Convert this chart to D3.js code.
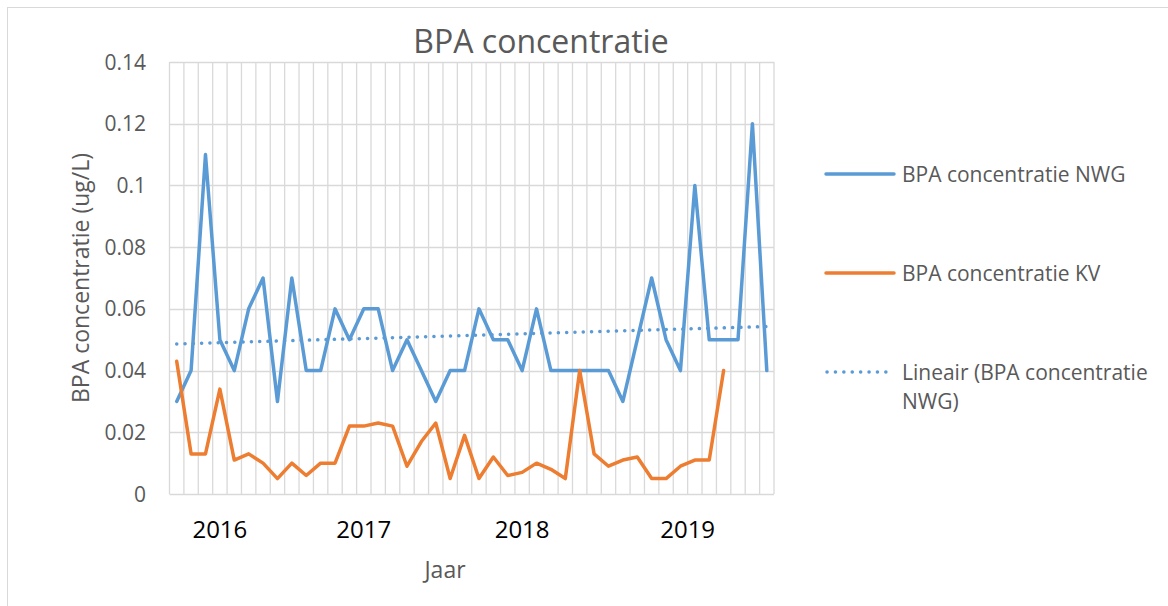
<!DOCTYPE html>
<html>
<head>
<meta charset="utf-8">
<script src="https://cdn.jsdelivr.net/npm/d3@7"></script>
<style>
  body { margin: 0; background: #fff; }
  text { font-family: "Open Sans", "Noto Sans", sans-serif; }
</style>
</head>
<body>
<div id="chart"></div>
<script>
// monthly samples, NWG and KV (ug/L)
var nwgValues = [0.03, 0.04, 0.11, 0.05, 0.04, 0.06, 0.07, 0.03, 0.07, 0.04, 0.04,
  0.06, 0.05, 0.06, 0.06, 0.04, 0.05, 0.04, 0.03, 0.04, 0.04,
  0.06, 0.05, 0.05, 0.04, 0.06, 0.04, 0.04, 0.04, 0.04, 0.04,
  0.03, 0.05, 0.07, 0.05, 0.04, 0.10, 0.05, 0.05, 0.05, 0.12, 0.04];
var kvValues = [0.043, 0.013, 0.013, 0.034, 0.011, 0.013, 0.010, 0.005, 0.010, 0.006, 0.010,
  0.010, 0.022, 0.022, 0.023, 0.022, 0.009, 0.017, 0.023, 0.005, 0.019,
  0.005, 0.012, 0.006, 0.007, 0.010, 0.008, 0.005, 0.040, 0.013, 0.009,
  0.011, 0.012, 0.005, 0.005, 0.009, 0.011, 0.011, 0.040, null, null, null];
var yearLabels = ["2016", "2017", "2018", "2019"];
var yearIndex = [3, 13, 24, 35.5];
var yTicks = [0, 0.02, 0.04, 0.06, 0.08, 0.1, 0.12, 0.14];
var seriesNames = ["BPA concentratie NWG", "BPA concentratie KV"];

var width = 1168, height = 606;
var blue = "#5b9bd5", orange = "#ed7d31", grid = "#d9d9d9";
var lw = 3.5;

var svg = d3.select("#chart").append("svg")
  .attr("width", width).attr("height", height);

// outer chart border
svg.append("rect").attr("x", 7.5).attr("y", 7.5)
  .attr("width", 1300).attr("height", 800)
  .attr("fill", "#fff").attr("stroke", grid);

var idx = d3.range(nwgValues.length);
var x = d3.scaleBand().domain(idx).range([169.5, 774]).paddingInner(0).paddingOuter(0);
var bw = x.bandwidth();
var cx = function (i) { return x(0) + (i + 0.5) * bw; };
var y = d3.scaleLinear().domain([0, 0.14]).range([494, 62]);

// horizontal gridlines
svg.append("g").selectAll("line").data(yTicks).enter().append("line")
  .attr("x1", 169.5).attr("x2", 774)
  .attr("y1", function (d) { return Math.round(y(d)) + 0.5; })
  .attr("y2", function (d) { return Math.round(y(d)) + 0.5; })
  .attr("stroke", grid).attr("stroke-width", 1.3);

// vertical gridlines at category edges
svg.append("g").selectAll("line").data(d3.range(nwgValues.length + 1)).enter().append("line")
  .attr("x1", function (d) { return x(0) + d * bw; })
  .attr("x2", function (d) { return x(0) + d * bw; })
  .attr("y1", y(0.14)).attr("y2", y(0))
  .attr("stroke", grid).attr("stroke-width", 1.3);

// y tick labels
svg.append("g").selectAll("text").data(yTicks).enter().append("text")
  .attr("x", 146).attr("y", function (d) { return y(d); })
  .attr("dy", "0.36em").attr("text-anchor", "end")
  .style("font-size", "21px").style("fill", "#595959")
  .text(function (d) { return d3.format("~g")(d); });

// year labels
svg.append("g").selectAll("text").data(yearLabels).enter().append("text")
  .attr("x", function (d, i) { return cx(yearIndex[i]); })
  .attr("y", 538).attr("text-anchor", "middle")
  .style("font-size", "24px").style("fill", "#000")
  .text(function (d) { return d; });

// trendline (least squares on NWG)
var mx = d3.mean(idx), my = d3.mean(nwgValues);
var slope = d3.sum(idx, function (i) { return (i - mx) * (nwgValues[i] - my); }) /
  d3.sum(idx, function (i) { return (i - mx) * (i - mx); });
var trend = [0, idx.length - 1].map(function (i) { return [cx(i), y(my + slope * (i - mx))]; });
svg.append("path").attr("d", d3.line()(trend))
  .attr("fill", "none").attr("stroke", blue).attr("stroke-width", lw)
  .attr("stroke-linecap", "round").attr("stroke-dasharray", "0.1 8.2");

var line = d3.line()
  .defined(function (d) { return d != null; })
  .x(function (d, i) { return cx(i); })
  .y(function (d) { return y(d); });

svg.append("path").datum(nwgValues).attr("d", line)
  .attr("fill", "none").attr("stroke", blue).attr("stroke-width", lw)
  .attr("stroke-linejoin", "round").attr("stroke-linecap", "round");
svg.append("path").datum(kvValues).attr("d", line)
  .attr("fill", "none").attr("stroke", orange).attr("stroke-width", lw)
  .attr("stroke-linejoin", "round").attr("stroke-linecap", "round");

// title and axis titles
svg.append("text").attr("x", 541).attr("y", 53).attr("text-anchor", "middle")
  .style("font-size", "32px").style("fill", "#595959").text("BPA concentratie");
svg.append("text").attr("transform", "translate(89,278) rotate(-90)")
  .attr("text-anchor", "middle")
  .style("font-size", "23px").style("fill", "#595959").text("BPA concentratie (ug/L)");
svg.append("text").attr("x", 445).attr("y", 578).attr("text-anchor", "middle")
  .style("font-size", "23px").style("fill", "#595959").text("Jaar");

// legend
var legend = svg.append("g");
var legendY = [174, 273, 372];
legend.selectAll("line.solid").data(seriesNames).enter().append("line")
  .attr("x1", 826).attr("x2", 894)
  .attr("y1", function (d, i) { return legendY[i]; })
  .attr("y2", function (d, i) { return legendY[i]; })
  .attr("stroke", function (d, i) { return i == 0 ? blue : orange; })
  .attr("stroke-width", lw).attr("stroke-linecap", "round");
legend.selectAll("text.name").data(seriesNames).enter().append("text")
  .attr("x", 902).attr("y", function (d, i) { return legendY[i] + 8; })
  .style("font-size", "21px").style("fill", "#595959")
  .text(function (d) { return d; });
legend.append("line").attr("x1", 827).attr("x2", 894)
  .attr("y1", legendY[2]).attr("y2", legendY[2])
  .attr("stroke", blue).attr("stroke-width", lw)
  .attr("stroke-linecap", "round").attr("stroke-dasharray", "0.1 8.3");
var lt = legend.append("text").attr("x", 902).attr("y", legendY[2] + 8)
  .style("font-size", "21px").style("fill", "#595959");
lt.append("tspan").attr("x", 902).text("Lineair (BPA concentratie");
lt.append("tspan").attr("x", 902).attr("dy", 29).text("NWG)");
</script>
</body>
</html>
